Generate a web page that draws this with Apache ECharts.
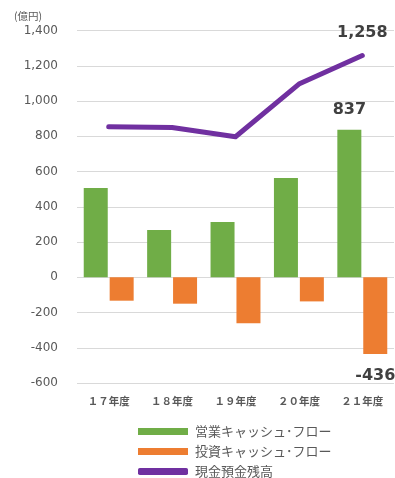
<!DOCTYPE html>
<html><head><meta charset="utf-8">
<script src="https://cdn.jsdelivr.net/npm/echarts@6/dist/echarts.min.js"></script>
<style>html,body{margin:0;padding:0;background:#fff}#c{width:395px;height:478px}</style>
</head><body><div id="c"></div>
<script>
const categories = ['１７年度','１８年度','１９年度','２０年度','２１年度'];
const operatingCF = [506, 268, 313, 563, 837];
const investingCF = [-133, -150, -261, -137, -436];
const cashBalance = [854, 850, 797, 1096, 1258];
const yTicks = {min: -600, max: 1400, interval: 200};

const fmt = v => Number(v).toLocaleString('en-US');
const boldLabel = {fontFamily: 'DejaVu Sans', fontWeight: 'bold', fontSize: 16, color: '#404040'};
function lastLabel(pos, dist, n) {
  return Object.assign({show: true, position: pos, distance: dist,
    formatter: p => p.dataIndex === n - 1 ? fmt(p.value) : ''}, boldLabel);
}

const chart = echarts.init(document.getElementById('c'), null, {renderer: 'canvas'});
chart.setOption({
  animation: false,
  grid: {left: 77, right: 1, top: 30.5, bottom: 95, containLabel: false},
  graphic: [{type: 'text', left: 14, top: 11, style: {text: '(億円)', fontSize: 10.5, fill: '#595959', fontFamily: 'Noto Sans CJK JP'}}],
  legend: {
    orient: 'vertical', left: 133, top: 420, height: 60, itemWidth: 50, itemHeight: 7, itemGap: 7,
    textStyle: {fontSize: 13, color: '#595959', fontFamily: 'Noto Sans CJK JP', lineHeight: 13, padding: [0,0,0,2]},
    data: [
      {name: '営業キャッシュ･フロー', icon: 'rect'},
      {name: '投資キャッシュ･フロー', icon: 'rect'},
      {name: '現金預金残高', icon: 'roundRect', itemStyle: {color: '#7030A0'}}
    ]
  },
  xAxis: {
    type: 'category', data: categories,
    axisLine: {show: false}, axisTick: {show: false},
    axisLabel: {margin: 13, fontSize: 10.5, fontWeight: 'bold', color: '#595959', fontFamily: 'Noto Sans CJK JP'}
  },
  yAxis: {
    type: 'value', min: yTicks.min, max: yTicks.max, interval: yTicks.interval,
    axisLine: {show: false}, axisTick: {show: false},
    splitLine: {lineStyle: {color: '#d9d9d9', width: 1}},
    axisLabel: {margin: 19, fontSize: 12, color: '#595959', fontFamily: 'DejaVu Sans', formatter: v => fmt(v)}
  },
  series: [
    {name: '営業キャッシュ･フロー', type: 'bar', barWidth: 24, barGap: '8%', data: operatingCF,
     label: lastLabel('top', 12, operatingCF.length), itemStyle: {color: '#70AD47'}},
    {name: '投資キャッシュ･フロー', type: 'bar', barWidth: 24, barGap: '8%', data: investingCF,
     label: lastLabel('bottom', 14, investingCF.length), itemStyle: {color: '#ED7D31'}},
    {name: '現金預金残高', type: 'line', symbol: 'circle', symbolSize: 1, showSymbol: true, data: cashBalance,
     label: lastLabel('top', 14, cashBalance.length),
     lineStyle: {color: '#7030A0', width: 5, cap: 'round', join: 'round'}, itemStyle: {color: '#7030A0'}, z: 5}
  ]
});
</script></body></html>
